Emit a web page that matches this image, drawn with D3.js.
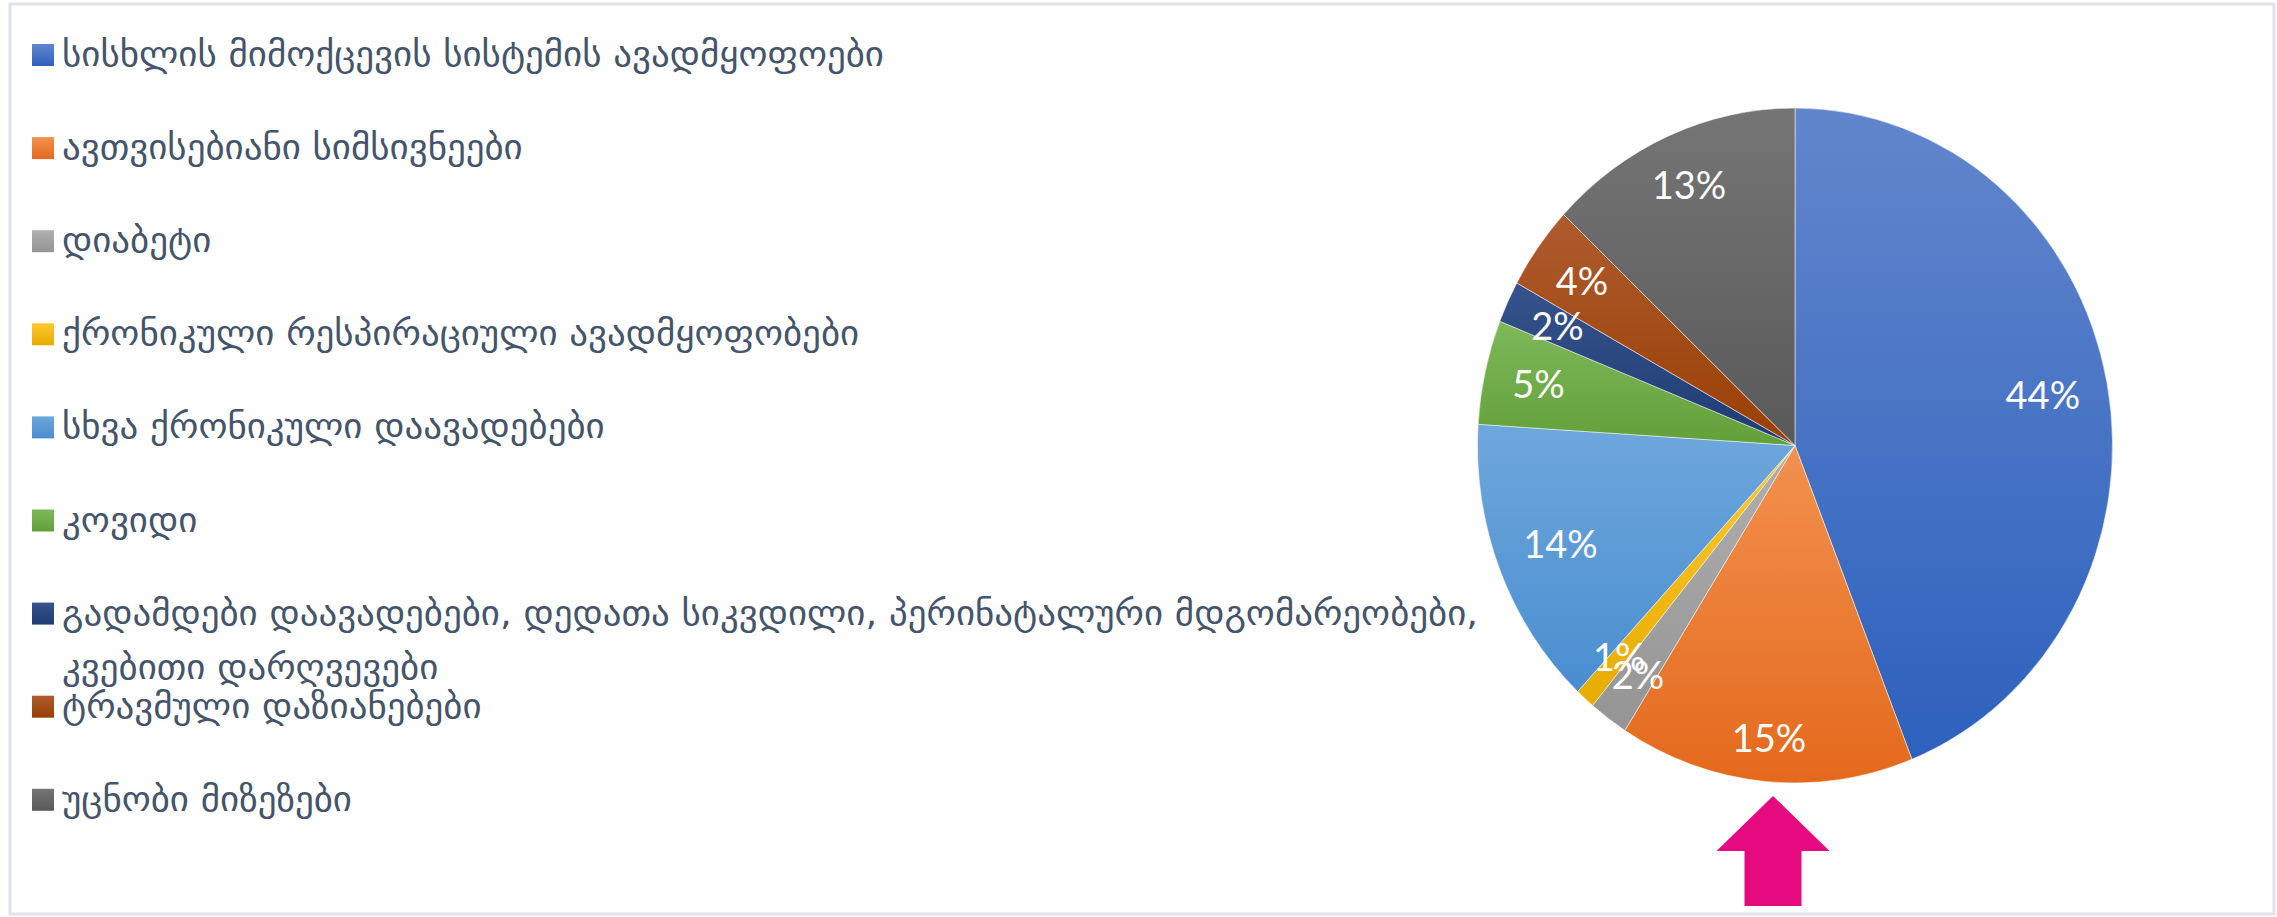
<!DOCTYPE html>
<html>
<head>
<meta charset="utf-8">
<script src="https://cdn.jsdelivr.net/npm/d3@7/dist/d3.min.js"></script>
<style>
  html, body { margin: 0; padding: 0; background: #ffffff; }
  svg { display: block; }
</style>
</head>
<body>
<svg id="chart" width="2277" height="917"></svg>
<script>
// ---- data ----
const categories = [
  "სისხლის მიმოქცევის სისტემის ავადმყოფოები",
  "ავთვისებიანი სიმსივნეები",
  "დიაბეტი",
  "ქრონიკული რესპირაციული ავადმყოფობები",
  "სხვა ქრონიკული დაავადებები",
  "კოვიდი",
  "გადამდები დაავადებები, დედათა სიკვდილი, პერინატალური მდგომარეობები, კვებითი დარღვევები",
  "ტრავმული დაზიანებები",
  "უცნობი მიზეზები"
];
const values = [44, 15, 2, 1, 14, 5, 2, 4, 13];
const valueLabels = ["44%", "15%", "2%", "1%", "14%", "5%", "2%", "4%", "13%"];

// ---- styles ----
const colorTop    = ["#6286CC", "#F3914F", "#B0B0B0", "#FFC830", "#6EA7DC", "#7EB859", "#36538C", "#AF5B2F", "#757575"];
const colorBottom = ["#2D61BD", "#E3691C", "#949494", "#E6AC00", "#4A8ED0", "#62A03A", "#1F3B73", "#993F03", "#595959"];

const W = 2277, H = 917;
const svg = d3.select("#chart");
const defs = svg.append("defs");

colorTop.forEach((c, i) => {
  const g = defs.append("linearGradient")
    .attr("id", "grad" + i)
    .attr("x1", 0).attr("y1", 0).attr("x2", 0).attr("y2", 1);
  g.append("stop").attr("offset", "0%").attr("stop-color", c);
  g.append("stop").attr("offset", "100%").attr("stop-color", colorBottom[i]);
});

// frame
svg.append("rect")
  .attr("x", 10).attr("y", 4).attr("width", W - 13).attr("height", H - 7)
  .attr("fill", "none").attr("stroke", "#dfe3ea").attr("stroke-width", 3);

// ---- pie (slightly elliptical as in reference) ----
const cx = 1795, cy = 445.5, rx = 317.5, ry = 337.5;
const pie = d3.pie().sort(null).value(d => d);
const arcs = pie(values);
const arc = d3.arc().innerRadius(0).outerRadius(ry);

const pieG = svg.append("g").attr("transform", `translate(${cx},${cy})`);
pieG.append("g")
  .attr("transform", `scale(${rx / ry},1)`)
  .selectAll("path")
  .data(arcs)
  .join("path")
  .attr("d", arc)
  .attr("fill", (d, i) => `url(#grad${i})`)
  .attr("stroke", "#ffffff")
  .attr("stroke-opacity", 0.5)
  .attr("stroke-width", 1)
  .attr("vector-effect", "non-scaling-stroke");

// labels: placed along mid angle, inset from the rim by a margin plus label extent
const labelFont = 38, capH = 28, margin = 26;
const lbl = pieG.append("g")
  .attr("font-family", "Lato, 'Open Sans', sans-serif")
  .attr("font-size", labelFont)
  .attr("fill", "#ffffff")
  .attr("text-anchor", "middle");

arcs.forEach((d, i) => {
  const t = lbl.append("text").text(valueLabels[i]).attr("dy", "0.36em");
  const w = t.node().getComputedTextLength();
  const a = (d.startAngle + d.endAngle) / 2;
  const px = rx * Math.sin(a), py = -ry * Math.cos(a);
  const len = Math.hypot(px, py);
  const ux = px / len, uy = py / len;
  const ext = Math.abs(ux) * w / 2 + Math.abs(uy) * capH / 2;
  const dist = len - margin - ext;
  t.attr("x", ux * dist).attr("y", uy * dist);
});

// ---- legend ----
const legX = 32, legY0 = 44, legStep = 93.1, sq = 22, textX = 62, wrapDY = 54, maxTextW = 1425;
const legend = svg.append("g").attr("transform", `translate(0,0)`);

// measure font compression from reference proportions
const legendFont = 34;
const probe = legend.append("text")
  .attr("font-family", "'DejaVu Sans', sans-serif")
  .attr("font-size", legendFont)
  .text(categories[0]);
const rawW = probe.node().getComputedTextLength();
probe.remove();
const sx = 822 / rawW;

categories.forEach((name, i) => {
  const y = legY0 + i * legStep;
  legend.append("rect")
    .attr("x", legX).attr("y", y).attr("width", sq).attr("height", sq)
    .attr("fill", `url(#grad${i})`);
  const tg = legend.append("g")
    .attr("transform", `translate(${textX},${y + sq}) scale(${sx},1)`);
  // word wrap
  const words = name.split(" ");
  let lines = [], cur = "";
  const meas = tg.append("text")
    .attr("font-family", "'DejaVu Sans', sans-serif")
    .attr("font-size", legendFont);
  words.forEach(wd => {
    const test = cur ? cur + " " + wd : wd;
    meas.text(test);
    if (meas.node().getComputedTextLength() * sx > maxTextW && cur) {
      lines.push(cur); cur = wd;
    } else cur = test;
  });
  lines.push(cur);
  meas.remove();
  lines.forEach((ln, k) => {
    tg.append("text")
      .attr("x", 0).attr("y", k * wrapDY)
      .attr("font-family", "'DejaVu Sans', sans-serif")
      .attr("font-size", legendFont)
      .attr("fill", "#44546A")
      .text(ln);
  });
});

// ---- annotation arrow pointing at the orange slice ----
const tipX = cx + ry * 0 - 22, tipY = cy + ry + 13;
const headW = 113, headH = 55, shaftW = 57, shaftH = 55;
const arrow = d3.path();
arrow.moveTo(tipX, tipY);
arrow.lineTo(tipX + headW / 2, tipY + headH);
arrow.lineTo(tipX + shaftW / 2, tipY + headH);
arrow.lineTo(tipX + shaftW / 2, tipY + headH + shaftH);
arrow.lineTo(tipX - shaftW / 2, tipY + headH + shaftH);
arrow.lineTo(tipX - shaftW / 2, tipY + headH);
arrow.lineTo(tipX - headW / 2, tipY + headH);
arrow.closePath();
svg.append("path").attr("d", arrow.toString()).attr("fill", "#E60A80");
</script>
</body>
</html>
